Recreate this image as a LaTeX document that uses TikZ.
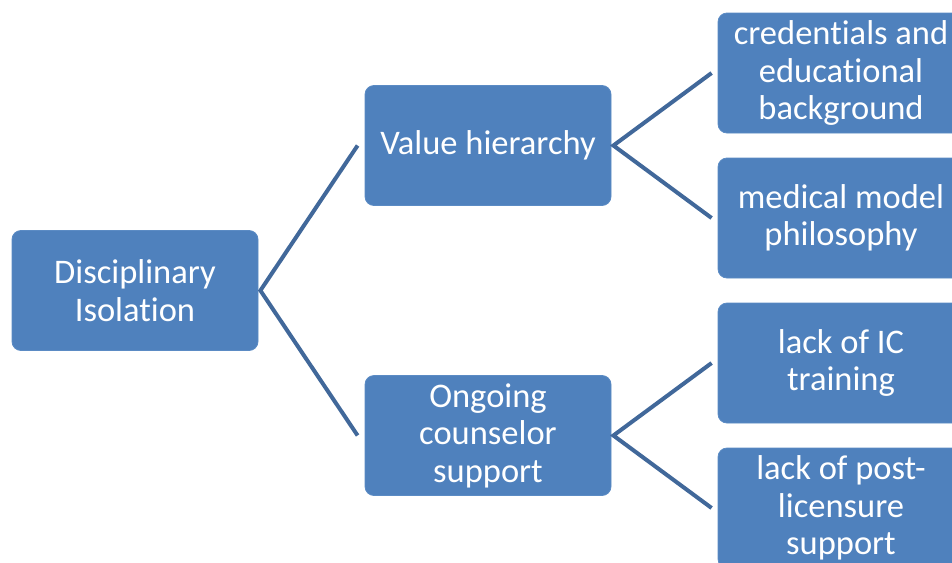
\documentclass[tikz,border=0pt]{standalone}
\usepackage{fontspec}
\setmainfont[Ligatures=NoCommon]{Carlito}
\definecolor{boxfill}{HTML}{4F81BD}
\definecolor{boxline}{HTML}{5B8BC4}
\definecolor{linkcol}{HTML}{41689A}
\begin{document}
\begin{tikzpicture}[x=1pt,y=-1pt,
  box/.style={draw=boxline,line width=0.8pt,fill=boxfill,rounded corners=9pt,
    minimum width=246pt,minimum height=120pt,inner sep=0pt,text=white,
    align=center,font=\fontsize{34.5}{37.5}\selectfont},
  link/.style={draw=linkcol,line width=4pt}]
\useasboundingbox (0,0) rectangle (952,562);
\node[box] (root) at (135,290.5) {Disciplinary\\Isolation};
\node[box] (vh) at (488,145.5) {Value hierarchy};
\node[box] (ocs) at (488,435.5) {Ongoing\\counselor\\support};
\node[box] (cred) at (841,73) {credentials and\\educational\\background};
\node[box] (med) at (841,218) {medical model\\philosophy};
\node[box] (ic) at (841,363) {lack of IC\\training};
\node[box] (post) at (841,508) {lack of post-\\licensure\\support};
\draw[link] ([xshift=-7pt]vh.west) -- ([xshift=2pt]root.east) -- ([xshift=-7pt]ocs.west);
\draw[link] ([xshift=-6pt]cred.west) -- ([xshift=2pt]vh.east) -- ([xshift=-6pt]med.west);
\draw[link] ([xshift=-6pt]ic.west) -- ([xshift=2pt]ocs.east) -- ([xshift=-6pt]post.west);
\end{tikzpicture}
\end{document}
